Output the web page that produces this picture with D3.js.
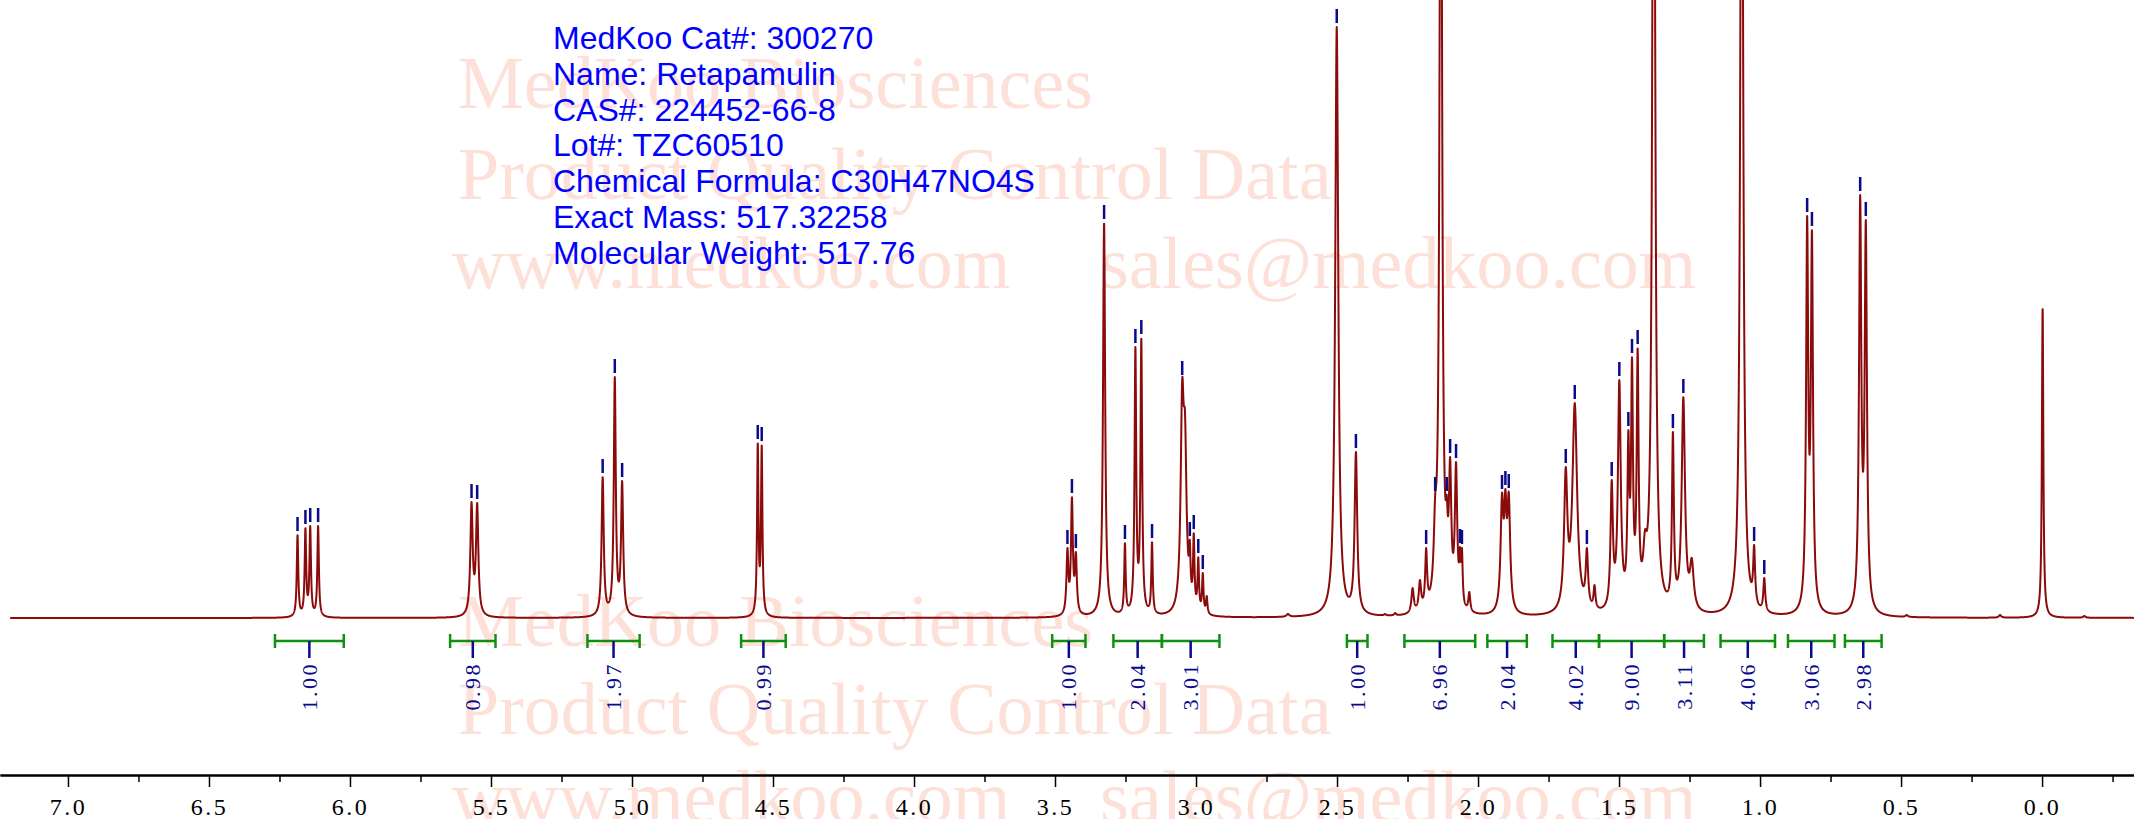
<!DOCTYPE html>
<html>
<head>
<meta charset="utf-8">
<script src="https://cdn.jsdelivr.net/npm/d3@7"></script>
<style>
  body { margin: 0; background: #fff; }
  svg { display: block; }
</style>
</head>
<body>
<div id="chart"></div>
<script>
// peak list: position (ppm), height above baseline, half width (ppm), picked or not
const peakPpm = [6.186, 6.158, 6.141, 6.113, 5.569, 5.549, 5.104, 5.061, 5.035, 4.554, 4.540,
    3.456, 3.440, 3.426, 3.326, 3.252, 3.215, 3.194, 3.156, 3.049, 3.039, 3.022, 3.008, 2.992, 2.976, 2.962,
    2.674, 2.501, 2.433, 2.330, 2.294, 2.232, 2.206, 2.184, 2.152, 2.132, 2.111, 2.099, 2.078, 2.064, 2.057, 2.031,
    1.915, 1.903, 1.891, 1.689, 1.657, 1.614, 1.587, 1.526, 1.499, 1.467, 1.454, 1.434, 1.408, 1.377,
    1.309, 1.272, 1.242, 1.065, 1.021, 0.985, 0.833, 0.816, 0.645, 0.625, 0.480, 0.149, -0.002, -0.150];
const peakHeight = [83, 90, 92, 92, 116, 115, 141, 241, 137, 175, 173,
    70, 121, 66, 395, 75, 271, 280, 76, 239, 205, 78, 85, 61, 45, 22,
    4, 591, 166, 4, 5, 30, 38, 70, 123, 1000, 123, 161, 156, 71, 70, 26,
    125, 129, 126, 151, 215, 70, 33, 138, 238, 188, 261, 270, 88, 1100,
    186, 221, 60, 1050, 73, 40, 402, 388, 423, 398, 3, 3, 310, 2];
const peakWidth = [0.0032, 0.0032, 0.0032, 0.0032, 0.005, 0.005, 0.0045, 0.0042, 0.0045, 0.003, 0.003,
    0.004, 0.004, 0.004, 0.0045, 0.003, 0.0035, 0.0035, 0.003, 0.0065, 0.0065, 0.003, 0.003, 0.003, 0.003, 0.003,
    0.006, 0.0065, 0.0055, 0.004, 0.004, 0.005, 0.005, 0.004, 0.006, 0.005, 0.004, 0.005, 0.005, 0.003, 0.003, 0.004,
    0.006, 0.005, 0.006, 0.007, 0.01, 0.005, 0.004, 0.005, 0.006, 0.004, 0.004, 0.004, 0.008, 0.0055,
    0.004, 0.007, 0.008, 0.0055, 0.004, 0.004, 0.0045, 0.0045, 0.0048, 0.0048, 0.005, 0.005, 0.003, 0.005];
const peakPicked = [1, 1, 1, 1, 1, 1, 1, 1, 1, 1, 1,
    1, 1, 1, 1, 1, 1, 1, 1, 1, 0, 1, 1, 1, 1, 0,
    0, 1, 1, 0, 0, 0, 0, 1, 1, 0, 1, 1, 1, 1, 1, 0,
    1, 1, 1, 1, 1, 1, 0, 1, 1, 1, 1, 1, 0, 0,
    1, 1, 0, 0, 1, 1, 1, 1, 1, 1, 0, 0, 0, 0];

// integration regions (ppm) and their values
const integralStart = [6.266, 5.645, 5.158, 4.613, 3.510, 3.293, 3.121, 2.465, 2.261, 1.967, 1.736, 1.571, 1.340, 1.140, 0.901, 0.699];
const integralEnd = [6.022, 5.484, 4.973, 4.455, 3.392, 3.121, 2.917, 2.392, 2.010, 1.827, 1.571, 1.340, 1.199, 0.947, 0.736, 0.569];
const integralLabels = ["1.00", "0.98", "1.97", "0.99", "1.00", "2.04", "3.01", "1.00", "6.96", "2.04", "4.02", "9.00", "3.11", "4.06", "3.06", "2.98"];

const majorTicks = [7.0, 6.5, 6.0, 5.5, 5.0, 4.5, 4.0, 3.5, 3.0, 2.5, 2.0, 1.5, 1.0, 0.5, 0.0];
const minorTicks = [6.75, 6.25, 5.75, 5.25, 4.75, 4.25, 3.75, 3.25, 2.75, 2.25, 1.75, 1.25, 0.75, 0.25, -0.25];

const infoLines = [
    "MedKoo Cat#: 300270",
    "Name: Retapamulin",
    "CAS#: 224452-66-8",
    "Lot#: TZC60510",
    "Chemical Formula: C30H47NO4S",
    "Exact Mass: 517.32258",
    "Molecular Weight: 517.76",
];
const watermarkLines = ["MedKoo Biosciences", "Product Quality Control Data", "www.medkoo.com", "sales@medkoo.com"];

const W = 2134, H = 819;
const baseY = 618;
const axisY = 775;

const x = d3.scaleLinear().domain([7.241, -0.326]).range([0, W]);
const y = d3.scaleLinear().domain([0, baseY]).range([baseY, 0]);

// lorentzian line shapes; amplitudes tuned so that the summed curve hits the read heights
const amp = peakHeight.slice();
function spectrumAt(p) {
    let s = 0;
    for (let i = 0; i < peakPpm.length; i++) {
        const g = peakWidth[i];
        const d = p - peakPpm[i];
        s += amp[i] * g * g / (d * d + g * g);
    }
    return s;
}
for (let it = 0; it < 60; it++) {
    for (let i = 0; i < peakPpm.length; i++) {
        amp[i] = Math.max(0, amp[i] + 0.7 * (peakHeight[i] - spectrumAt(peakPpm[i])));
    }
}

const samples = [];
for (let p = 7.205; p >= -0.326; p -= 0.0004) {
    samples.push({ ppm: p, v: spectrumAt(p) });
}

const svg = d3.select("#chart")
    .append("svg")
    .attr("width", W)
    .attr("height", H)
    .style("background", "#fff");

// watermark, two blocks
const wm = svg.append("g")
    .attr("fill", "#fde1d9")
    .attr("font-family", "'Liberation Serif', 'Times New Roman', serif")
    .attr("font-size", 74);
[[108, 199, 288], [646, 734, 822]].forEach((rows) => {
    wm.append("text").attr("x", 458).attr("y", rows[0]).text(watermarkLines[0]);
    wm.append("text").attr("x", 458).attr("y", rows[1]).text(watermarkLines[1]);
    wm.append("text").attr("x", 452).attr("y", rows[2]).text(watermarkLines[2]);
    wm.append("text").attr("x", 1100).attr("y", rows[2]).text(watermarkLines[3]);
});

// spectrum
svg.append("path")
    .datum(samples)
    .attr("fill", "none")
    .attr("stroke", "#8b0a0a")
    .attr("stroke-width", 2)
    .attr("stroke-linejoin", "round")
    .attr("d", d3.line().x((d) => x(d.ppm)).y((d) => y(d.v)));

// peak pick marks
const picked = peakPpm.filter((p, i) => peakPicked[i]);
svg.append("g")
    .selectAll("line")
    .data(picked)
    .join("line")
    .attr("x1", (d) => x(d))
    .attr("x2", (d) => x(d))
    .attr("y1", (d) => y(spectrumAt(d)) - 4)
    .attr("y2", (d) => y(spectrumAt(d)) - 18)
    .attr("stroke", "#0a0a8c")
    .attr("stroke-width", 2.5);

// integrals
const integ = svg.append("g")
    .selectAll("g")
    .data(integralLabels.map((t, i) => ({ t, a: integralStart[i], b: integralEnd[i] })))
    .join("g");
const bracketY = 641;
integ.append("line")
    .attr("x1", (d) => x(d.a)).attr("x2", (d) => x(d.b))
    .attr("y1", bracketY).attr("y2", bracketY)
    .attr("stroke", "#109010").attr("stroke-width", 2.5);
integ.append("line")
    .attr("x1", (d) => x(d.a)).attr("x2", (d) => x(d.a))
    .attr("y1", bracketY - 7).attr("y2", bracketY + 7)
    .attr("stroke", "#109010").attr("stroke-width", 2.5);
integ.append("line")
    .attr("x1", (d) => x(d.b)).attr("x2", (d) => x(d.b))
    .attr("y1", bracketY - 7).attr("y2", bracketY + 7)
    .attr("stroke", "#109010").attr("stroke-width", 2.5);
integ.append("line")
    .attr("x1", (d) => (x(d.a) + x(d.b)) / 2).attr("x2", (d) => (x(d.a) + x(d.b)) / 2)
    .attr("y1", bracketY).attr("y2", bracketY + 17)
    .attr("stroke", "#0a0a8c").attr("stroke-width", 2.5);
integ.append("text")
    .attr("transform", (d) => `translate(${(x(d.a) + x(d.b)) / 2},662) rotate(-90)`)
    .attr("text-anchor", "end")
    .attr("dominant-baseline", "central")
    .attr("font-family", "'Liberation Serif', serif")
    .attr("font-size", 22)
    .attr("letter-spacing", 2.5)
    .attr("fill", "#0a0a8c")
    .text((d) => d.t);

// ppm axis
const minorAxis = d3.axisBottom(x).tickValues(minorTicks).tickSize(7).tickSizeOuter(0).tickFormat("");
const majorAxis = d3.axisBottom(x).tickValues(majorTicks).tickSize(12).tickSizeOuter(0).tickFormat(d3.format(".1f"));
svg.append("g").attr("transform", `translate(0,${axisY})`).call(minorAxis);
const ax = svg.append("g").attr("transform", `translate(0,${axisY})`).call(majorAxis);
svg.selectAll(".domain").attr("stroke", "#000").attr("stroke-width", 2);
svg.selectAll(".tick line").attr("stroke", "#000").attr("stroke-width", 1.5);
ax.selectAll("text")
    .attr("y", 40)
    .attr("dy", null)
    .attr("font-family", "'Liberation Serif', serif")
    .attr("font-size", 24)
    .attr("letter-spacing", 2.5)
    .attr("fill", "#000");

// sample info
svg.append("g")
    .attr("fill", "#0000ff")
    .attr("font-family", "'Liberation Sans', Arial, sans-serif")
    .attr("font-size", 32)
    .selectAll("text")
    .data(infoLines)
    .join("text")
    .attr("x", 553)
    .attr("y", (d, i) => 49 + i * 35.8)
    .text((d) => d);
</script>
</body>
</html>
